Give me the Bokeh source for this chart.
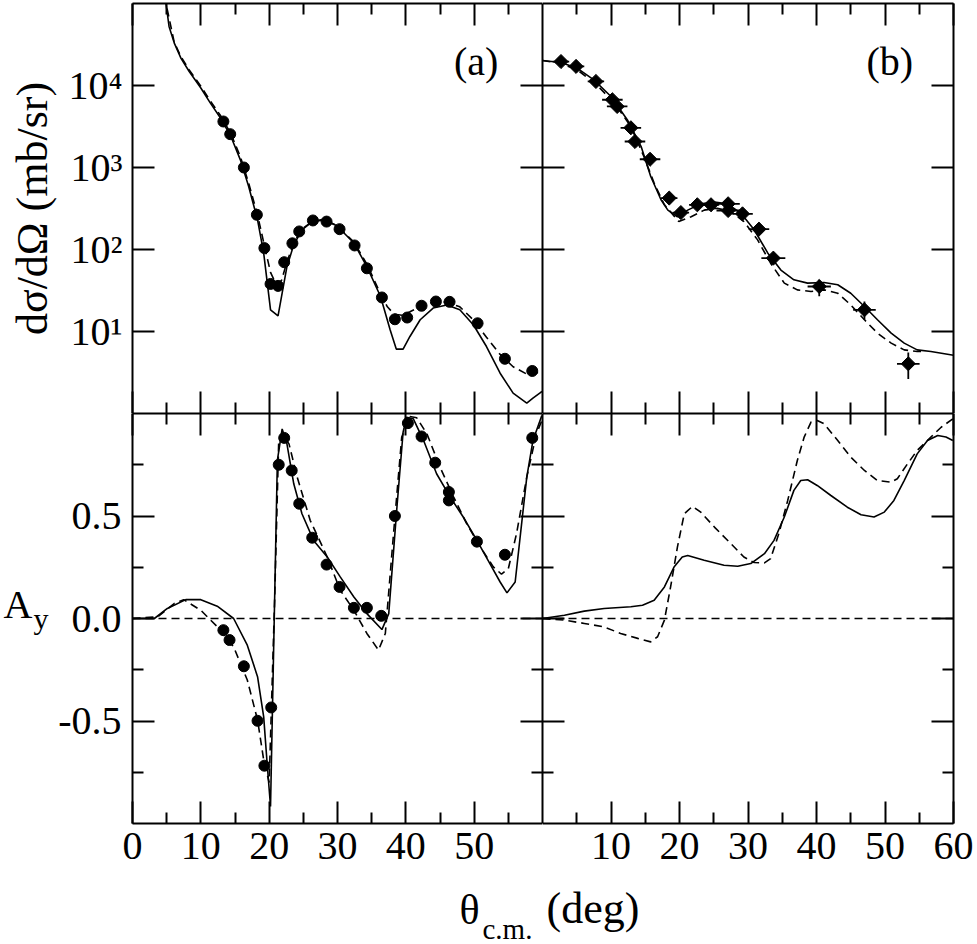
import numpy as np
from bokeh.plotting import figure
from bokeh.layouts import column, row
from bokeh.models import (LinearAxis, LogAxis, FixedTicker, CustomJSTickFormatter,
                          PrintfTickFormatter, Range1d, Span)
from bokeh.core.properties import value
from bokeh.embed import file_html
from bokeh.resources import INLINE

FONT = "Liberation Serif"

# ---------------- data: panel (a) cross section ----------------
theta_a_pts = [13.3, 14.3, 16.3, 18.2, 19.3, 20.2, 21.3, 22.2, 23.4, 24.4, 26.4, 28.4,
               30.3, 32.5, 34.3, 36.5, 38.4, 40.2, 42.3, 44.4, 46.4, 50.5, 54.5, 58.5]
sigma_a_pts = [3640, 2550, 1000, 265, 104, 38, 36, 70, 119, 166, 226, 219,
               177, 112, 59, 26, 14.1, 14.8, 20.6, 23.2, 23, 12.6, 4.65, 3.3]

theta_a_solid = [4.5, 4.9, 5.35, 6.1, 7.1, 8.3, 10.0, 11.4, 12.9, 14.4, 15.8, 17.0, 18.3, 19.2,
                 20.2, 21.3, 21.9, 22.6, 23.6, 24.8, 26.3, 28.0, 29.9, 32.4, 34.3, 36.3, 37.7,
                 38.6, 39.6, 40.6, 42.1, 44.0, 46.0, 47.9, 49.9, 51.8, 53.8, 55.7, 57.7, 58.6,
                 59.7, 60.0]
sigma_a_solid = [178000, 100000, 52500, 33100, 21400, 14800, 9330, 6100, 3980, 2390, 1230, 586,
                 230, 90.2, 18.4, 15.5, 29.3, 61.7, 114, 174, 219, 234, 195, 120, 61.7, 26.7,
                 10.5, 6.1, 6.1, 8.7, 13.9, 19.3, 21.1, 18.4, 12.0, 6.56, 3.10, 1.77, 1.34,
                 1.54, 1.80, 1.86]

theta_a_dash = [4.5, 4.9, 6.1, 7.1, 8.3, 10.0, 11.4, 12.9, 14.4, 15.8, 17.0, 18.3, 19.3, 20.2,
                21.0, 21.8, 22.6, 23.6, 24.8, 26.3, 28.0, 29.9, 32.4, 34.3, 36.3, 37.3, 38.3,
                39.5, 40.6, 42.1, 44.0, 46.0, 47.9, 49.9, 51.8, 53.8, 55.7, 57.7, 58.6, 59.7, 60.0]
sigma_a_dash = [178000, 100000, 33900, 22400, 15500, 9770, 6460, 4270, 2570, 1350, 646, 263,
                112, 52.5, 38.0, 41.7, 70.8, 120, 178, 219, 229, 195, 123, 66.1, 28.8, 20.0,
                16.2, 15.8, 17.4, 20.0, 22.6, 22.9, 20.0, 13.8, 8.5, 5.25, 3.72, 3.02, 2.95,
                3.31, 3.39]

# ---------------- data: panel (b) cross section ----------------
theta_b_pts = [2.7, 4.9, 7.8, 10.2, 10.9, 12.9, 13.5, 15.7, 18.5, 20.2, 22.6, 24.6, 27.1,
               27.1, 29.2, 31.6, 33.7, 40.4, 47.0, 53.4]
sigma_b_pts = [19600, 17100, 11200, 6700, 5550, 3050, 2075, 1260, 424, 282, 351, 351, 361,
               299, 272, 177, 78.5, 35.4, 18.4, 4.04]
theta_b_err = [1.2, 1.2, 1.2, 1.5, 1.5, 1.5, 1.5, 1.5, 1.2, 1.2, 1.2, 1.2, 1.7,
               1.7, 1.5, 1.5, 1.75, 1.7, 1.65, 1.65]
sigma_b_lo = [19600, 17100, 11200, 6700, 5550, 3050, 2075, 1260, 424, 282, 351, 351, 361,
              299, 272, 177, 70, 27, 13.9, 2.63]
sigma_b_hi = [19600, 17100, 11200, 6700, 5550, 3050, 2075, 1260, 424, 282, 351, 351, 361,
              299, 272, 177, 88, 42.7, 23.2, 5.55]

theta_b_solid = [0, 2.7, 5.1, 7.5, 10.0, 12.4, 14.4, 15.8, 17.3, 18.3, 19.7, 21.2, 23.1, 25.1,
                 27.0, 29.0, 30.9, 32.9, 34.8, 36.7, 38.7, 41.1, 43.1, 45.0, 47.0, 48.9, 50.9,
                 52.8, 54.7, 56.7, 60.0]
sigma_b_solid = [20200, 19100, 16200, 11700, 7350, 3800, 1800, 776, 404, 302, 251, 302, 361,
                 380, 361, 275, 174, 90.2, 56.2, 42.7, 38.9, 39.6, 37.2, 29.3, 20.2, 13.9,
                 9.55, 7.21, 5.97, 5.70, 5.13]

theta_b_dash = [0, 2.7, 5.1, 8.0, 10.5, 12.9, 14.8, 16.3, 17.8, 19.9, 21.7, 23.6, 25.5, 27.5,
                29.4, 31.4, 33.3, 35.3, 37.2, 39.2, 41.1, 43.1, 45.0, 47.0, 48.9, 50.9, 52.8,
                54.7, 55.8]
sigma_b_dash = [20200, 18600, 15500, 10000, 6100, 3160, 1360, 646, 351, 219, 251, 302, 319,
                290, 219, 131, 68.1, 38.9, 32.2, 30.8, 32.2, 29.3, 21.1, 13.9, 9.55, 7.21,
                5.97, 5.70, 5.70]

# ---------------- data: panel (a) analysing power ----------------
theta_a_ay_pts = [13.3, 14.2, 16.3, 18.3, 19.3, 20.3, 21.4, 22.2, 23.3, 24.4, 26.3, 28.4,
                  30.3, 32.4, 34.3, 36.4, 38.4, 40.3, 42.3, 44.3, 46.3, 46.3, 50.4, 54.5, 58.5]
ay_a_pts = [-0.057, -0.105, -0.233, -0.499, -0.718, -0.434, 0.75, 0.881, 0.722, 0.56, 0.394,
            0.263, 0.154, 0.052, 0.052, 0.013, 0.5, 0.953, 0.888, 0.76, 0.617, 0.576, 0.375,
            0.311, 0.881]

theta_a_ay_solid = [0, 3.2, 5.1, 7.8, 10.0, 12.4, 14.8, 16.8, 18.3, 19.2, 19.7, 20.2, 21.2,
                    21.9, 22.6, 23.6, 24.8, 26.5, 28.5, 30.4, 32.4, 34.3, 36.5, 37.5, 38.7,
                    39.6, 40.1, 41.1, 42.6, 44.5, 46.5, 48.4, 50.4, 52.3, 53.8, 54.8, 56.0,
                    57.7, 58.6, 59.9]
ay_a_solid = [0, 0, 0.049, 0.092, 0.092, 0.06, 0.0, -0.13, -0.284, -0.48, -0.706, -0.917,
              0.771, 0.925, 0.852, 0.657, 0.511, 0.381, 0.30, 0.203, 0.105, 0.024, -0.054,
              0.024, 0.544, 0.909, 0.982, 0.974, 0.868, 0.706, 0.592, 0.495, 0.381, 0.268,
              0.178, 0.125, 0.178, 0.69, 0.868, 0.99]

theta_a_ay_dash = [0, 3.7, 6.1, 7.5, 10.0, 12.4, 14.8, 16.8, 18.3, 19.2, 20.0, 20.8, 21.4,
                   21.9, 22.9, 24.1, 26.0, 28.5, 30.4, 32.4, 34.3, 36.0, 37.0, 38.2, 39.4,
                   40.6, 41.6, 43.1, 45.0, 47.0, 48.9, 50.9, 52.8, 54.0, 55.0, 56.2, 57.7,
                   59.1, 59.9]
ay_a_dash = [0, 0.008, 0.073, 0.092, 0.04, -0.04, -0.138, -0.30, -0.495, -0.69, -0.80, 0.089,
             0.868, 0.90, 0.852, 0.69, 0.479, 0.30, 0.138, 0.04, -0.073, -0.154, -0.073,
             0.414, 0.885, 0.985, 0.979, 0.90, 0.739, 0.592, 0.463, 0.349, 0.252, 0.216,
             0.243, 0.414, 0.69, 0.90, 0.966]

# ---------------- data: panel (b) analysing power ----------------
theta_b_ay_solid = [0, 3.2, 6.1, 9.0, 12.9, 14.6, 16.3, 17.8, 19.2, 20.4, 21.2, 23.6, 26.5,
                    28.5, 30.4, 32.4, 33.8, 35.3, 36.7, 37.7, 38.7, 40.1, 42.1, 44.5, 46.5,
                    48.4, 49.9, 51.3, 52.8, 54.7, 56.2, 57.7, 58.9, 59.9]
ay_b_solid = [0, 0.016, 0.036, 0.049, 0.057, 0.065, 0.089, 0.154, 0.251, 0.30, 0.307, 0.284,
              0.26, 0.255, 0.268, 0.316, 0.381, 0.495, 0.625, 0.673, 0.677, 0.649, 0.60,
              0.543, 0.506, 0.495, 0.519, 0.576, 0.673, 0.803, 0.868, 0.893, 0.885, 0.868]

theta_b_ay_dash = [0, 3.2, 6.1, 9.0, 11.4, 13.9, 15.8, 16.8, 17.8, 18.7, 19.7, 20.7, 21.9,
                   23.1, 25.1, 27.5, 29.4, 30.9, 32.4, 33.3, 34.5, 35.8, 37.2, 38.2, 39.2,
                   40.1, 41.1, 43.1, 45.0, 47.0, 48.9, 50.9, 51.8, 53.3, 54.7, 56.7, 58.2, 59.9]
ay_b_dash = [0, -0.008, -0.024, -0.041, -0.073, -0.097, -0.114, -0.089, -0.008, 0.154, 0.349,
             0.511, 0.547, 0.519, 0.446, 0.365, 0.30, 0.273, 0.271, 0.292, 0.414, 0.576,
             0.771, 0.885, 0.958, 0.966, 0.95, 0.868, 0.787, 0.722, 0.673, 0.665, 0.682,
             0.755, 0.82, 0.885, 0.933, 0.974]

# ---------------- ticks ----------------
x_ticks_left = [0, 10, 20, 30, 40, 50]
x_ticks_right = [10, 20, 30, 40, 50, 60]
x_minor = [5, 15, 25, 35, 45, 55]
log_ticks = [10, 100, 1000, 10000]
ay_ticks = [-0.5, 0.0, 0.5]
ay_minor = [-0.75, -0.25, 0.25, 0.75]

DASH = "8 5"
LW = 1.6

sup_fmt = CustomJSTickFormatter(code="""
const sup = {"0":"\u2070","1":"\u00b9","2":"\u00b2","3":"\u00b3","4":"\u2074",
             "5":"\u2075","6":"\u2076","7":"\u2077","8":"\u2078","9":"\u2079"};
const e = Math.round(Math.log10(tick)).toString();
return "10" + e.split("").map(c => sup[c]).join("");
""")


def style(ax, ticks, minor, show, formatter=None, standoff=10):
    ax.ticker = FixedTicker(ticks=ticks, minor_ticks=minor)
    ax.axis_line_width = 2
    ax.axis_line_color = "black"
    ax.major_tick_in = 22
    ax.major_tick_out = 0
    ax.minor_tick_in = 11
    ax.minor_tick_out = 0
    ax.major_tick_line_width = 2
    ax.minor_tick_line_width = 2
    ax.major_tick_line_color = "black"
    ax.minor_tick_line_color = "black"
    if show:
        ax.major_label_text_font = FONT
        ax.major_label_text_font_size = "40px"
        ax.major_label_text_color = "black"
        ax.major_label_standoff = standoff
        if formatter is not None:
            ax.formatter = formatter
    else:
        ax.major_label_text_font_size = "0px"
        ax.major_label_standoff = 0
        ax.formatter = CustomJSTickFormatter(code="return '';")


def make_fig(width, height, log, yr, bl, br, bt, bb):
    kw = dict(width=width, height=height, output_backend="svg", toolbar_location=None,
              x_range=Range1d(0, 60), y_range=yr,
              min_border_left=bl, min_border_right=br, min_border_top=bt, min_border_bottom=bb)
    if log:
        kw["y_axis_type"] = "log"
    p = figure(**kw)
    p.grid.visible = False
    p.outline_line_color = None
    p.background_fill_color = "white"
    p.border_fill_color = "white"
    p.add_layout(LogAxis() if log else LinearAxis(), "right")
    p.add_layout(LinearAxis(), "above")
    return p


def text_strip(width, height):
    s = figure(width=width, height=height, output_backend="svg", toolbar_location=None,
               x_range=Range1d(0, width), y_range=Range1d(0, height), x_axis_location=None,
               y_axis_location=None, min_border=0, title=None)
    s.grid.visible = False
    s.outline_line_color = None
    s.background_fill_color = "white"
    s.border_fill_color = "white"
    return s


LEFT_B = 132
FRAME_L = 410
FRAME_R = 411
RIGHT_B = 24
TOP_B = 3
FRAME_H = 410
BOT_B = 57
AY_STRIP = 55

LEFT_W = LEFT_B + FRAME_L
RIGHT_W = FRAME_R + RIGHT_B
TOP_H = TOP_B + FRAME_H
BOT_H = FRAME_H + BOT_B

p1 = make_fig(LEFT_W, TOP_H, True, Range1d(1, 1e5), LEFT_B, 0, TOP_B, 0)
p2 = make_fig(RIGHT_W, TOP_H, True, Range1d(1, 1e5), 0, RIGHT_B, TOP_B, 0)
p3 = make_fig(LEFT_W - AY_STRIP, BOT_H, False, Range1d(-1, 1), LEFT_B - AY_STRIP, 0, 0, BOT_B)
p4 = make_fig(RIGHT_W, BOT_H, False, Range1d(-1, 1), 0, RIGHT_B, 0, BOT_B)

# axes styling
style(p1.left[0], log_ticks, [], True, sup_fmt, 10)
p1.left[0].axis_label = "d\u03c3/d\u03a9 (mb/sr)"
p1.left[0].axis_label_text_font = FONT
p1.left[0].axis_label_text_font_size = "44px"
p1.left[0].axis_label_text_font_style = "normal"
p1.left[0].axis_label_text_color = "black"
p1.left[0].axis_label_standoff = 9
style(p1.right[0], log_ticks, [], False)
style(p1.below[0], x_ticks_left, x_minor, False)
style(p1.above[0], x_ticks_left, x_minor, False)

style(p2.left[0], log_ticks, [], False)
style(p2.right[0], log_ticks, [], False)
style(p2.below[0], x_ticks_right, x_minor, False)
style(p2.above[0], x_ticks_right, x_minor, False)

style(p3.left[0], ay_ticks, ay_minor, True, PrintfTickFormatter(format="%.1f"), 11)
style(p3.right[0], ay_ticks, ay_minor, False)
style(p3.below[0], x_ticks_left, x_minor, True, None, 9)
style(p3.above[0], x_ticks_left, x_minor, False)

style(p4.left[0], ay_ticks, ay_minor, False)
style(p4.right[0], ay_ticks, ay_minor, False)
style(p4.below[0], x_ticks_right, x_minor, True, None, 9)
style(p4.above[0], x_ticks_right, x_minor, False)

TXT = dict(text_font=value(FONT), text_color="black", text_baseline="middle")

# ---- panel (a) top
p1.line(theta_a_solid, sigma_a_solid, line_width=LW, color="black")
p1.line(theta_a_dash, sigma_a_dash, line_width=LW, color="black", line_dash=DASH)
p1.scatter(theta_a_pts, sigma_a_pts, marker="circle", size=11, color="black")
p1.text(x=[50.3], y=[19600], text=["(a)"], text_font_size=value("40px"),
        text_align="center", **TXT)

# ---- panel (b) top
p2.line(theta_b_solid, sigma_b_solid, line_width=LW, color="black")
p2.line(theta_b_dash, sigma_b_dash, line_width=LW, color="black", line_dash=DASH)
x0 = [t - e for t, e in zip(theta_b_pts, theta_b_err)]
x1 = [t + e for t, e in zip(theta_b_pts, theta_b_err)]
p2.segment(x0, sigma_b_pts, x1, sigma_b_pts, line_width=1.8, color="black")
p2.segment(theta_b_pts, sigma_b_lo, theta_b_pts, sigma_b_hi, line_width=1.8, color="black")
p2.scatter(theta_b_pts, sigma_b_pts, marker="square", angle=np.pi / 4, size=10, color="black")
p2.text(x=[50.7], y=[19600], text=["(b)"], text_font_size=value("40px"),
        text_align="center", **TXT)

# ---- panel (a) bottom
p3.add_layout(Span(location=0, dimension="width", line_color="black", line_width=LW,
                   line_dash=DASH))
p3.line(theta_a_ay_solid, ay_a_solid, line_width=LW, color="black")
p3.line(theta_a_ay_dash, ay_a_dash, line_width=LW, color="black", line_dash=DASH)
p3.scatter(theta_a_ay_pts, ay_a_pts, marker="circle", size=11, color="black")

# ---- panel (b) bottom
p4.add_layout(Span(location=0, dimension="width", line_color="black", line_width=LW,
                   line_dash=DASH))
p4.line(theta_b_ay_solid, ay_b_solid, line_width=LW, color="black")
p4.line(theta_b_ay_dash, ay_b_dash, line_width=LW, color="black", line_dash=DASH)

# ---- A_y label strip (left of bottom row); y measured up from the strip bottom
pay = text_strip(AY_STRIP, BOT_H)
pay.text(x=[3], y=[BOT_H - 217], text=["A"], text_font_size=value("40px"), **TXT)
pay.text(x=[33], y=[BOT_H - 234], text=["y"], text_font_size=value("30px"), **TXT)

# ---- x axis title strip
LAB_H = 944 - TOP_H - BOT_H
plab = text_strip(LEFT_W + RIGHT_W, LAB_H)
plab.text(x=[459], y=[LAB_H - 29], text=["\u03b8"], text_font_size=value("42px"), **TXT)
plab.text(x=[482], y=[LAB_H - 48], text=["c.m."], text_font_size=value("29px"), **TXT)
plab.text(x=[546], y=[LAB_H - 28], text=["(deg)"], text_font_size=value("44px"), **TXT)

layout = column(row(p1, p2), row(pay, p3, p4), plab)
open("out.html", "w").write(file_html(layout, INLINE))
